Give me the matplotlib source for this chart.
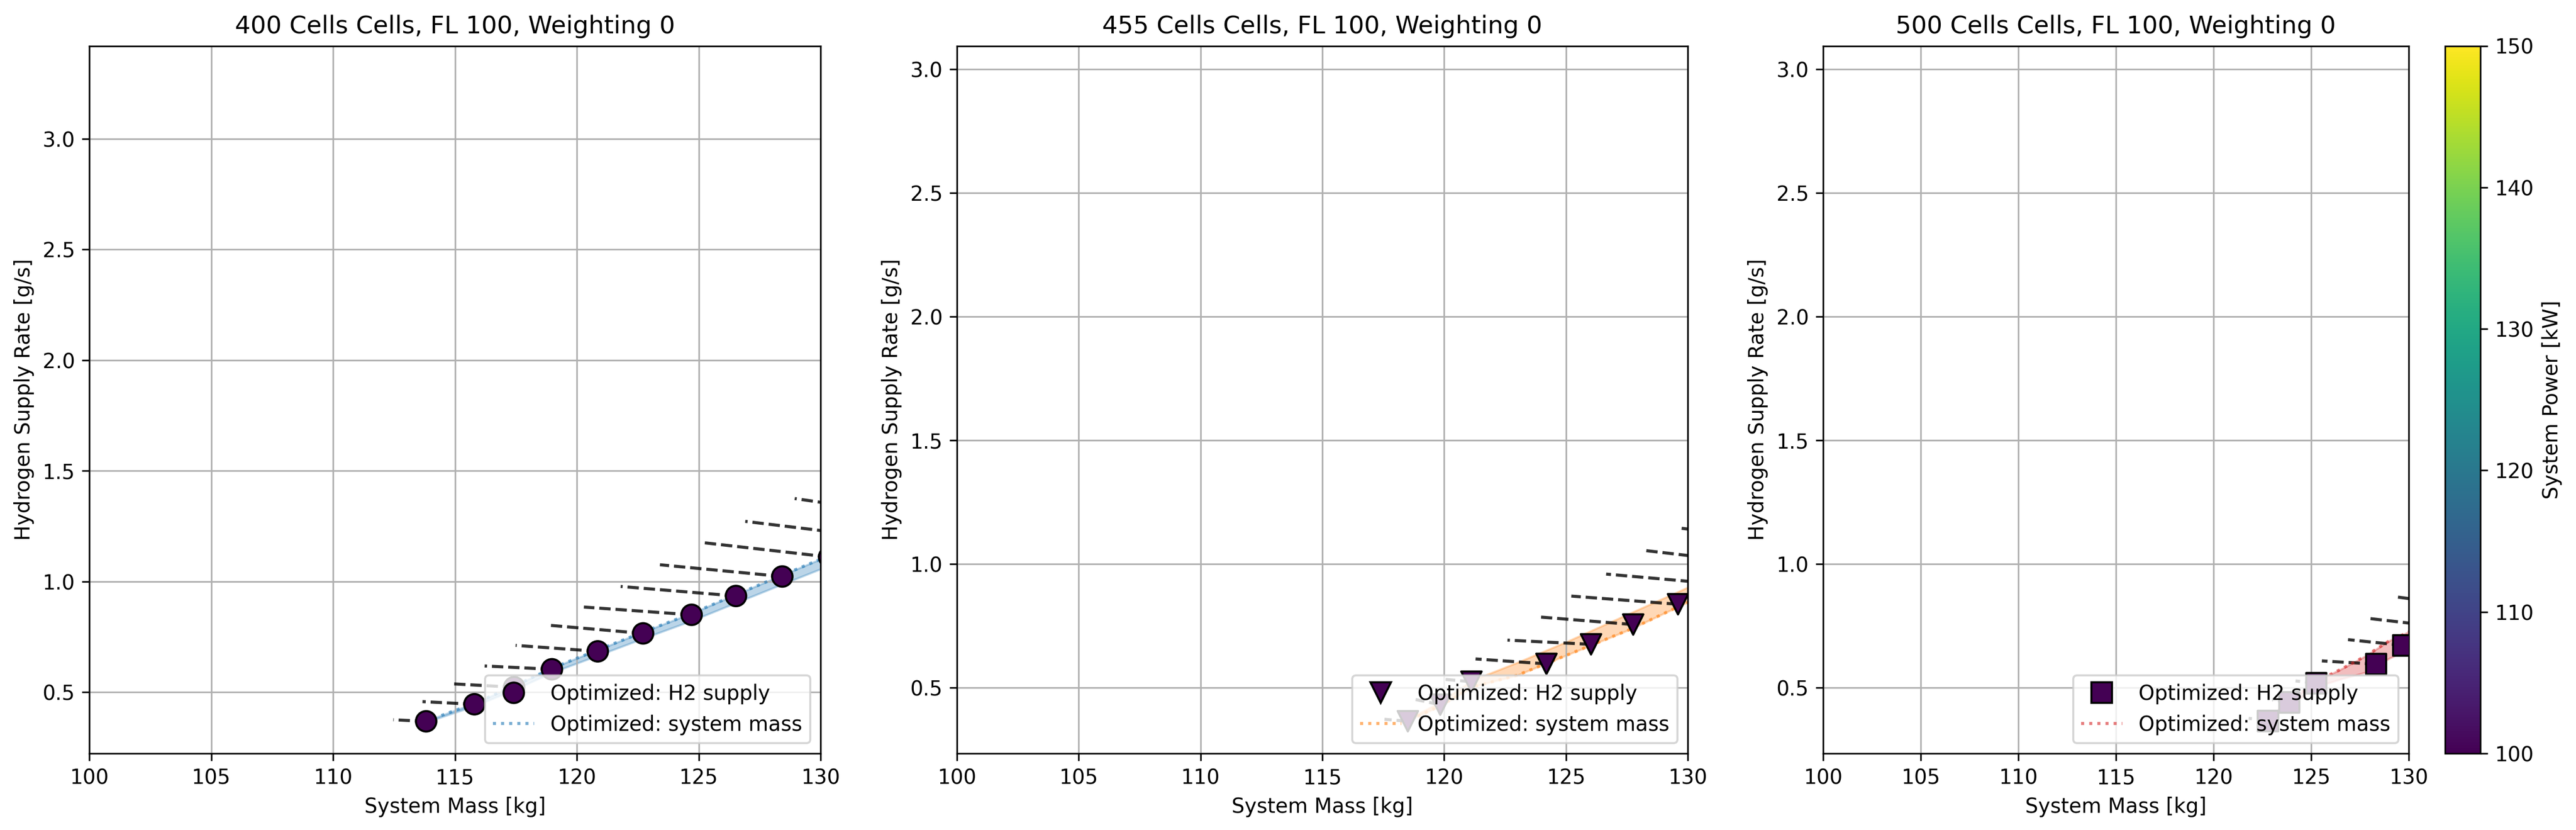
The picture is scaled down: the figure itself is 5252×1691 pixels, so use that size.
import matplotlib
matplotlib.use("Agg")
import matplotlib.pyplot as plt
from matplotlib.colors import Normalize
from matplotlib.cm import ScalarMappable
from matplotlib.lines import Line2D

cells = [400, 455, 500]
marker_kinds = ["o", "v", "s"]
band_colors = ["tab:blue", "tab:orange", "tab:red"]

# --- 400 cells ---
h2_mass_400 = [113.82, 115.80, 117.43, 118.98, 120.86, 122.72, 124.71, 126.53, 128.43, 130.35, 132.30, 134.30]
h2_rate_400 = [0.369, 0.446, 0.523, 0.604, 0.685, 0.766, 0.850, 0.935, 1.023, 1.111, 1.200, 1.290]
power_400 = [100, 100, 100, 100, 100, 100, 100, 100, 100, 100, 100, 100]
dash_mass_400 = [112.47, 113.67, 114.96, 116.22, 117.49, 118.94, 120.29, 121.80, 123.41, 125.09, 126.91, 128.94]
dash_rate_400 = [0.376, 0.458, 0.538, 0.619, 0.712, 0.802, 0.885, 0.978, 1.076, 1.177, 1.272, 1.375]
sys_mass_400 = [113.82, 115.80, 117.43, 118.98, 120.86, 122.72, 124.71, 126.53, 128.43, 130.35, 132.30, 134.30]
sys_rate_400 = [0.370, 0.450, 0.528, 0.609, 0.691, 0.772, 0.856, 0.941, 1.029, 1.117, 1.206, 1.296]
band_lo_400 = [0.365, 0.438, 0.511, 0.589, 0.666, 0.743, 0.823, 0.904, 0.988, 1.072, 1.157, 1.243]
band_hi_400 = [0.370, 0.450, 0.528, 0.609, 0.691, 0.772, 0.856, 0.941, 1.029, 1.117, 1.206, 1.296]

# --- 455 cells ---
h2_mass_455 = [118.51, 119.84, 121.12, 124.20, 126.03, 127.76, 129.60, 131.50, 133.40, 135.30]
h2_rate_455 = [0.365, 0.432, 0.525, 0.597, 0.676, 0.756, 0.838, 0.918, 0.996, 1.080]
power_455 = [100, 100, 100, 100, 100, 100, 100, 100, 100, 100]
dash_mass_455 = [117.55, 118.83, 120.06, 121.29, 122.60, 123.98, 125.22, 126.65, 128.18, 129.75]
dash_rate_455 = [0.373, 0.453, 0.534, 0.617, 0.693, 0.786, 0.871, 0.960, 1.056, 1.145]
sys_mass_455 = [118.3, 119.8, 121.2, 123.0, 125.0, 127.6, 130.0, 132.5, 135.0]
sys_rate_455 = [0.358, 0.425, 0.505, 0.551, 0.631, 0.735, 0.846, 0.950, 1.050]
band_lo_455 = [0.358, 0.425, 0.505, 0.551, 0.631, 0.735, 0.846, 0.950, 1.050]
band_hi_455 = [0.362, 0.440, 0.532, 0.602, 0.685, 0.800, 0.906, 1.020, 1.130]

# --- 500 cells ---
h2_mass_500 = [122.79, 123.88, 125.26, 128.33, 129.71, 131.10, 132.50]
h2_rate_500 = [0.366, 0.442, 0.519, 0.596, 0.672, 0.752, 0.835]
power_500 = [100, 100, 100, 100, 100, 100, 100]
dash_mass_500 = [121.80, 123.00, 124.20, 125.55, 126.89, 128.03, 129.34]
dash_rate_500 = [0.377, 0.452, 0.528, 0.609, 0.695, 0.780, 0.868]
sys_mass_500 = [122.6, 123.9, 125.3, 126.5, 127.8, 129.0, 130.2, 131.5, 133.0]
sys_rate_500 = [0.360, 0.445, 0.528, 0.574, 0.629, 0.690, 0.733, 0.800, 0.880]
band_lo_500 = [0.355, 0.430, 0.505, 0.535, 0.563, 0.619, 0.664, 0.725, 0.800]
band_hi_500 = [0.360, 0.445, 0.528, 0.574, 0.629, 0.690, 0.733, 0.800, 0.880]

data = [
    (h2_mass_400, h2_rate_400, power_400, dash_mass_400, dash_rate_400, sys_mass_400, sys_rate_400, band_lo_400, band_hi_400),
    (h2_mass_455, h2_rate_455, power_455, dash_mass_455, dash_rate_455, sys_mass_455, sys_rate_455, band_lo_455, band_hi_455),
    (h2_mass_500, h2_rate_500, power_500, dash_mass_500, dash_rate_500, sys_mass_500, sys_rate_500, band_lo_500, band_hi_500),
]
ylims = [(0.224, 3.419), (0.235, 3.095), (0.235, 3.095)]

W, H = 5252, 1691
fig = plt.figure(figsize=(W / 300, H / 300), dpi=300)

bottom = (H - 1535) / H
height = (1535 - 93.5) / H
ax_boxes = [(182, 1491), (1951, 1490), (3717, 1194)]
axes = [fig.add_axes([l / W, bottom, w / W, height]) for l, w in ax_boxes]
cax = fig.add_axes([4985 / W, bottom, 72 / W, height])

norm = Normalize(vmin=100, vmax=150)
cmap = plt.get_cmap("viridis")

for i, ax in enumerate(axes):
    mx, my, pw, dx, dy, sx, sy, lo, hi = data[i]
    col = band_colors[i]

    # lines towards each optimum
    for k in range(len(mx)):
        ax.plot([mx[k], dx[k]], [my[k], dy[k]], color="k", alpha=0.8, linestyle="--", linewidth=1.5)

    ax.fill_between(sx, lo, hi, color=col, alpha=0.3)
    ax.plot(sx, sy, linestyle=":", color=col, alpha=0.6, linewidth=1.5)

    ax.scatter(mx, my, c=pw, cmap=cmap, norm=norm, marker=marker_kinds[i], s=100,
               edgecolors="k", linewidths=1, zorder=3)

    h_sc = Line2D([], [], linestyle="none", marker=marker_kinds[i], markersize=10,
                  markerfacecolor=cmap(norm(pw[0])), markeredgecolor="k", markeredgewidth=1)
    h_ln = Line2D([], [], linestyle=":", color=col, alpha=0.6, linewidth=1.5)
    ax.legend([h_sc, h_ln], ["Optimized: H2 supply", "Optimized: system mass"], loc="lower right")

    ax.set_xlim(100, 130)
    ax.set_ylim(*ylims[i])
    ax.grid(True)
    ax.set_title(f"{cells[i]} Cells Cells, FL 100, Weighting 0")
    ax.set_xlabel("System Mass [kg]")
    ax.set_ylabel("Hydrogen Supply Rate [g/s]")

sm = ScalarMappable(norm=norm, cmap=cmap)
fig.colorbar(sm, cax=cax, label="System Power [kW]")

fig.savefig("out.png", dpi=300)
